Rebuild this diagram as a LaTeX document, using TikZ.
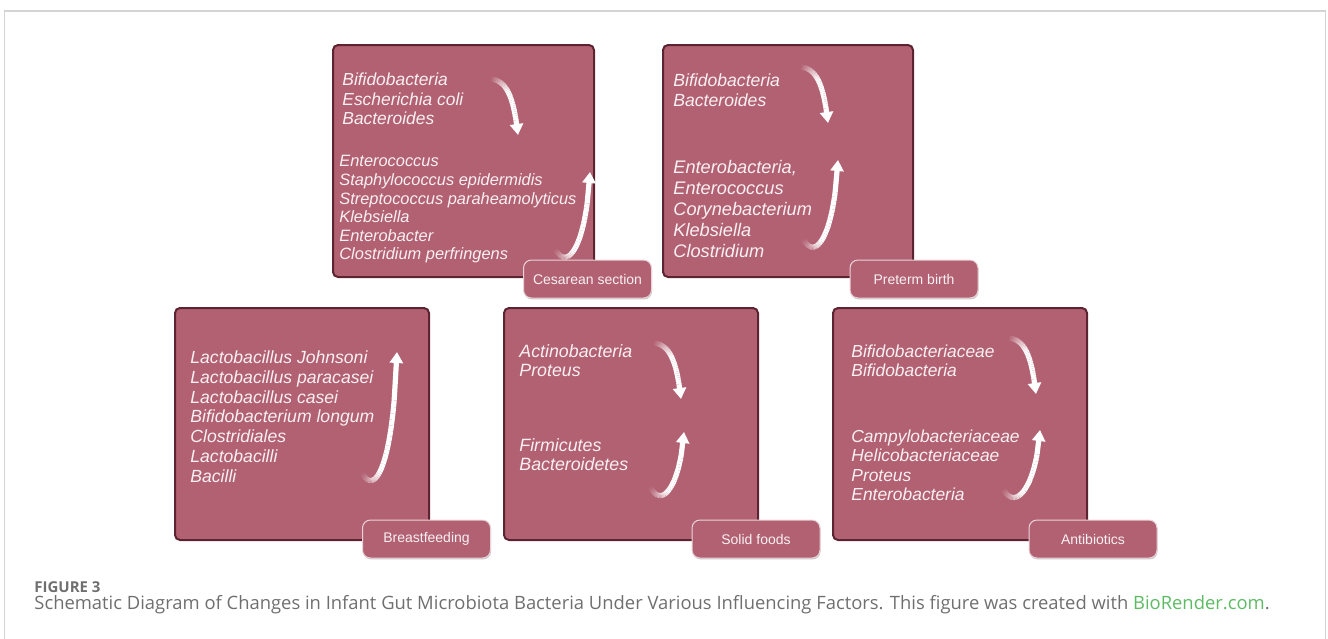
\documentclass[tikz,border=0pt]{standalone}
\usepackage{fontspec}
\setmainfont{Liberation Sans}
\newfontfamily\capfont{Open Sans}
\usetikzlibrary{arrows.meta,shadows}

\definecolor{boxfill}{HTML}{B26172}
\definecolor{boxline}{HTML}{5C2331}
\definecolor{taxtext}{HTML}{F8F0F2}
\definecolor{framegray}{HTML}{D4D4D4}
\definecolor{capgray}{HTML}{6F6F6F}
\definecolor{biogreen}{HTML}{5DBB63}

\begin{document}
\begin{tikzpicture}[
  x=0.5pt, y=-0.5pt,
  declare function={bez(\t,\a,\b,\c,\d)=(1-\t)^3*\a+3*(1-\t)^2*\t*\b+3*(1-\t)*\t^2*\c+\t^3*\d;},
  factorbox/.style={draw=boxline, line width=1pt, fill=boxfill, rounded corners=2.5pt, minimum height=116pt, inner sep=0pt},
  factorlab/.style={draw=white!72!boxfill, line width=0.5pt, fill=boxfill, rounded corners=4pt, minimum width=64pt, minimum height=19pt, inner sep=0pt, text=taxtext, font=\fontsize{7}{8}\selectfont, drop shadow={fill=black, opacity=0.22, shadow xshift=0.3pt, shadow yshift=-0.7pt}},
  taxa/.style 2 args={anchor=north west, align=left, inner sep=0pt, text=taxtext, font=\fontsize{#1}{#2}\selectfont\itshape},
  trendbody/.style={white, line width=2.6pt},
  trend/.style={white, line width=2.6pt, -{Triangle[width=6.5pt,length=5.5pt]}}
]
\useasboundingbox (0,0) rectangle (1328,638);
\draw[framegray, line width=0.8pt] (4.5,660) |- (1325.5,11) -- (1325.5,660);

% Top row.
\node[factorbox, minimum width=130.5pt] (cesarean) at (463.5,161) {};
\node[factorbox, minimum width=125pt] (preterm) at (788,161) {};
% Bottom row.
\node[factorbox, minimum width=127pt] (breast) at (302,424) {};
\node[factorbox, minimum width=127pt] (solid) at (631,424) {};
\node[factorbox, minimum width=127pt] (antibio) at (960,424) {};

% Bacteria lists.
\node[taxa={8.7}{9.75}] (cs-down) at (342,72.5) {Bifidobacteria\\Escherichia coli\\Bacteroides};
\node[taxa={8.2}{9.3}] (cs-up) at (339,155.2) {Enterococcus\\Staphylococcus epidermidis\\Streptococcus paraheamolyticus\\Klebsiella\\Enterobacter\\Clostridium perfringens};
\node[taxa={8.8}{10}] (pt-down) at (673,73.3) {Bifidobacteria\\Bacteroides};
\node[taxa={9.1}{10.4}] (pt-up) at (673,160.4) {Enterobacteria,\\Enterococcus\\Corynebacterium\\Klebsiella\\Clostridium};
\node[taxa={8.8}{9.9}] (bf-up) at (190,350.3) {Lactobacillus Johnsoni\\Lactobacillus paracasei\\Lactobacillus casei\\Bifidobacterium longum\\Clostridiales\\Lactobacilli\\Bacilli};
\node[taxa={8.9}{9.5}] (sf-down) at (519,344.2) {Actinobacteria\\Proteus};
\node[taxa={8.9}{9.5}] (sf-up) at (519,438.2) {Firmicutes\\Bacteroidetes};
\node[taxa={8.7}{9.7}] (ab-down) at (851,344.5) {Bifidobacteriaceae\\Bifidobacteria};
\node[taxa={8.7}{9.7}] (ab-up) at (851,429.5) {Campylobacteriaceae\\Helicobacteriaceae\\Proteus\\Enterobacteria};

% Trend arrows: tail fades in, head drawn solid.
\foreach \xa/\ya/\xb/\yb/\xc/\yc/\xd/\yd in {
    490/79/508/80/514/100/518/135, 800/67/818/68/824/88/828/123,
    653/343/671/344/677/364/681/399, 1008/338/1026/339/1032/359/1036/394,
    555/248/566/272/586/250/590/172, 803/238/814/262/834/240/838/160,
    362/472/373/496/393/474/397/352, 650/486/661/510/680/488/684/432,
    1003/488/1014/512/1036/490/1040/430} {
  \foreach \k in {0,...,33} {
    \pgfmathsetmacro{\ta}{\k/40}
    \pgfmathsetmacro{\tb}{(\k+1)/40}
    \pgfmathsetmacro{\op}{min(1,\ta/0.45)}
    \draw[trendbody, opacity=\op] ({bez(\ta,\xa,\xb,\xc,\xd)},{bez(\ta,\ya,\yb,\yc,\yd)}) -- ({bez(\tb,\xa,\xb,\xc,\xd)},{bez(\tb,\ya,\yb,\yc,\yd)});
  }
  \coordinate (head-from) at ({bez(0.85,\xa,\xb,\xc,\xd)},{bez(0.85,\ya,\yb,\yc,\yd)});
  \coordinate (head-to) at (\xd,\yd);
  \draw[trend] (head-from) -- (head-to);
}

% Factor labels.
\node[factorlab] (cs-lab) at (587.5,279) {Cesarean section};
\node[factorlab] (pt-lab) at (914,279) {Preterm birth};
\node[factorlab] (bf-lab) at (426.5,539) {Breastfeeding};
\node[factorlab] (sf-lab) at (756,539) {Solid foods};
\node[factorlab] (ab-lab) at (1093,539) {Antibiotics};

% Caption.
\node[anchor=base west, inner sep=0pt, text=capgray, font=\capfont\fontsize{7.5}{9}\selectfont\bfseries] (fig-num) at (34,592.7) {FIGURE 3};
\node[anchor=base west, inner sep=0pt, text=capgray, font=\capfont\fontsize{9.2}{10}\selectfont] (fig-cap) at (34,609) {Schematic Diagram of Changes in Infant Gut Microbiota Bacteria Under Various Influencing Factors. This figure was created with \textcolor{biogreen}{BioRender.com}.};
\end{tikzpicture}
\end{document}
